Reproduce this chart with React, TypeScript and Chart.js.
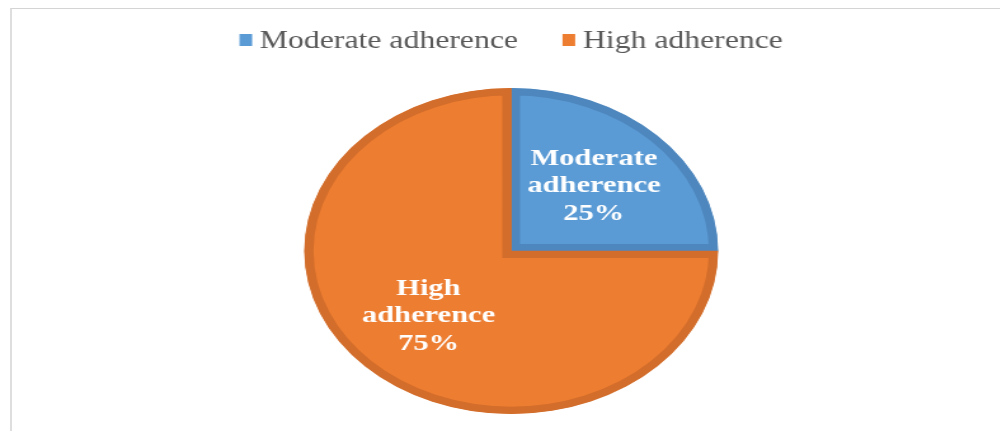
import React, { useEffect, useRef } from "react";
import { Chart, registerables } from "chart.js";

Chart.register(...registerables);

const categories = ["Moderate adherence", "High adherence"];
const values = [25, 75];
const percentLabels = ["25%", "75%"];
const fillColors = ["#5B9BD5", "#ED7D31"];
const borderColors = ["#4E87BE", "#D26D2B"];

const STRETCH = 1.27;
const CSS_W = 1022;
const CSS_H = 431;
const BUF_W = Math.round(CSS_W / STRETCH);

const legendPlugin = {
  id: "customLegend",
  afterDraw(chart: any) {
    const ctx = chart.ctx;
    ctx.save();
    ctx.font = '25px "Liberation Serif"';
    const boxW = 10;
    const boxH = 12;
    const gapBT = 6;
    const gapItems = 35;
    const labels: string[] = chart.data.labels;
    const colors: string[] = chart.data.datasets[0].backgroundColor;
    const widths = labels.map((l) => ctx.measureText(l).width);
    const total =
      widths.reduce((a, w) => a + boxW + gapBT + w, 0) + gapItems * (labels.length - 1);
    let x = chart.width / 2 - total / 2;
    const y = 40;
    labels.forEach((l, i) => {
      ctx.fillStyle = colors[i];
      ctx.fillRect(x, y - boxH / 2, boxW, boxH);
      x += boxW + gapBT;
      ctx.fillStyle = "#595959";
      ctx.textBaseline = "middle";
      ctx.textAlign = "left";
      ctx.fillText(l, x, y + 1);
      x += widths[i] + gapItems;
    });
    ctx.restore();
  },
};

const dataLabelPlugin = {
  id: "sliceLabels",
  afterDatasetsDraw(chart: any) {
    const ctx = chart.ctx;
    const meta = chart.getDatasetMeta(0);
    ctx.save();
    ctx.font = 'bold 24px "Liberation Serif"';
    ctx.fillStyle = "#FFFFFF";
    ctx.textAlign = "center";
    ctx.textBaseline = "middle";
    const lineH = 27.5;
    meta.data.forEach((arc: any, i: number) => {
      const { x, y, startAngle, endAngle, outerRadius } = arc.getProps(
        ["x", "y", "startAngle", "endAngle", "outerRadius"],
        true
      );
      const mid = (startAngle + endAngle) / 2;
      const r = outerRadius * 0.565;
      const cx = x + Math.cos(mid) * r;
      const cy = y + Math.sin(mid) * r;
      const lines = [...String(chart.data.labels[i]).split(" "), percentLabels[i]];
      const start = cy - ((lines.length - 1) * lineH) / 2;
      lines.forEach((ln, k) => ctx.fillText(ln, cx, start + k * lineH));
    });
    ctx.restore();
  },
};

export default function App() {
  const ref = useRef<HTMLCanvasElement | null>(null);

  useEffect(() => {
    if (!ref.current) return;
    const chart = new Chart(ref.current, {
      type: "pie",
      data: {
        labels: categories,
        datasets: [
          {
            data: values,
            backgroundColor: fillColors,
            borderColor: borderColors,
            borderWidth: 7,
            borderAlign: "inner",
            borderJoinStyle: "miter",
          } as any,
        ],
      },
      options: {
        responsive: false,
        animation: false,
        devicePixelRatio: 1,
        layout: { padding: { top: 88, bottom: 17, left: 0, right: 0 } },
        plugins: {
          legend: { display: false },
          tooltip: { enabled: false },
        },
      },
      plugins: [legendPlugin, dataLabelPlugin],
    });
    return () => chart.destroy();
  }, []);

  return (
    <div
      style={{
        position: "fixed",
        left: 0,
        top: 0,
        width: 1000,
        height: CSS_H,
        overflow: "hidden",
        background: "#ffffff",
      }}
    >
      <div
        style={{
          position: "absolute",
          left: 10,
          top: 8,
          width: 1010,
          height: 440,
          borderTop: "1px solid #d4d4d4",
          borderLeft: "2px solid #dedede",
          boxSizing: "border-box",
        }}
      />
      <div
        style={{
          position: "absolute",
          left: 0,
          top: 0,
          width: BUF_W,
          height: CSS_H,
          transform: `scaleX(${STRETCH})`,
          transformOrigin: "0 0",
        }}
      >
        <canvas ref={ref} width={BUF_W} height={CSS_H} style={{ width: BUF_W, height: CSS_H, display: "block" }} />
      </div>
    </div>
  );
}
